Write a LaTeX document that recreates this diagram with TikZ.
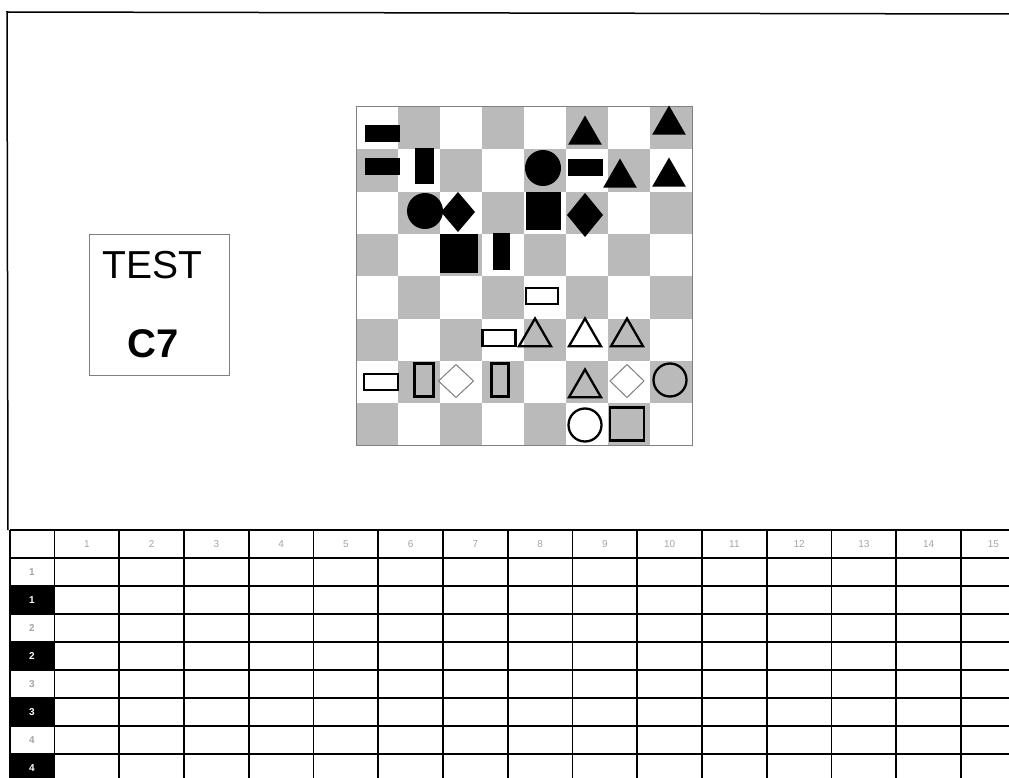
\documentclass[tikz,border=0pt]{standalone}
\usepackage{fontspec}
\setmainfont{Liberation Sans}
\usetikzlibrary{shapes.geometric}
\definecolor{square}{HTML}{BABABA}
\definecolor{rim}{HTML}{808080}
\definecolor{faint}{HTML}{A5A5A5}

\begin{document}
\begin{tikzpicture}[x=1pt,y=-1pt,
  ink/.style={fill=black,draw=none,inner sep=0pt,outer sep=0pt},
  hollow/.style={draw=black,line width=2.3pt,fill=none,inner sep=0pt,outer sep=0pt},
  hairline/.style={draw=rim,line width=1pt,fill=none,inner sep=0pt,outer sep=0pt},
  bar/.style={rectangle,minimum width=35,minimum height=17},
  post/.style={rectangle,minimum width=19,minimum height=36},
  block/.style={rectangle,minimum width=36,minimum height=37},
  dot/.style={circle,minimum size=36},
  gem/.style={diamond,minimum width=34,minimum height=40},
  tri/.style={regular polygon,regular polygon sides=3,minimum size=39},
  grid/.style={line width=1.6pt,draw=black},
  head/.style={font=\fontsize{10}{10}\selectfont,text=faint,inner sep=0pt},
  side/.style={font=\bfseries\fontsize{10}{10}\selectfont,inner sep=0pt}]
  \useasboundingbox (0,0) rectangle (1009,778);
  \clip (0,0) rectangle (1009,778);
  \fill[white] (0,0) rectangle (1009,778);
  \draw[line width=1.5pt] (8,530) -- (7,12) -- (1009,14);

  \node[hairline,minimum width=140,minimum height=141,anchor=north west] (card) at (89,234) {};
  \node[inner sep=0pt,anchor=base west,font=\fontsize{39}{39}\selectfont] (test) at (102,278) {TEST};
  \node[inner sep=0pt,anchor=base,font=\bfseries\fontsize{40}{40}\selectfont] (code) at (153,357) {C7};

  \foreach \r in {0,...,7}
    \foreach \c in {0,...,7}{
      \pgfmathtruncatemacro\odd{mod(\r+\c,2)}
      \ifnum\odd=1 \fill[square] ({356+42*\c},{107+42.3*\r}) rectangle +(42,42.3);\fi
    }
  \node[hairline,minimum width=336,minimum height=338,anchor=north west] (board) at (356,107) {};

  \node[ink,bar] (a1) at (382,134) {};
  \node[ink,tri] (f1) at (585,135) {};
  \node[ink,tri] (h1) at (669,125) {};
  \node[ink,bar] (a2) at (382,167) {};
  \node[ink,post] (b2) at (424,166) {};
  \node[ink,dot] (e2) at (543,168) {};
  \node[ink,bar] (f2) at (585,168) {};
  \node[ink,tri] (g2) at (620,178) {};
  \node[ink,tri] (h2) at (669,177) {};
  \node[ink,dot] (b3) at (425,211) {};
  \node[ink,gem] (c3) at (458,212) {};
  \node[ink,block,minimum width=35,minimum height=38] (e3) at (543,211) {};
  \node[ink,gem,minimum width=36,minimum height=44] (f3) at (585,215) {};
  \node[ink,block,minimum width=38,minimum height=39] (c4) at (459,253) {};
  \node[ink,post,minimum width=17,minimum height=37] (d4) at (501,251) {};

  \node[hollow,bar,minimum width=32,minimum height=16] (e5) at (542,296) {};
  \node[hollow,bar,minimum width=33,minimum height=16] (d6) at (499,338) {};
  \node[hollow,tri,minimum size=37] (e6) at (535,337) {};
  \node[hollow,tri,minimum size=37] (f6) at (585,337) {};
  \node[hollow,tri,minimum size=37] (g6) at (627,337) {};
  \node[hollow,bar,minimum width=34,minimum height=16] (a7) at (381,382) {};
  \node[hollow,post,minimum width=19,minimum height=33] (b7) at (424,380) {};
  \node[hairline,gem,minimum width=35,minimum height=33] (c7) at (456,381) {};
  \node[hollow,post,minimum width=17,minimum height=33] (d7) at (500,380) {};
  \node[hollow,tri,minimum size=37] (f7) at (585,388) {};
  \node[hairline,gem,minimum width=34,minimum height=33] (g7) at (627,381) {};
  \node[hollow,dot,minimum size=33] (h7) at (670,380) {};
  \node[hollow,dot,minimum size=33] (f8) at (585,425) {};
  \node[hollow,block,minimum width=34,minimum height=33] (g8) at (627,424) {};

  \foreach \r in {2,4,6,8}
    \fill (10,{530+28*\r}) rectangle (54.5,{558+28*\r});
  \foreach \r in {0,...,8}
    \draw[grid] (10,{530+28*\r}) -- (1009,{530+28*\r});
  \draw[grid] (10,530) -- (10,778);
  \foreach \k in {0,...,15}
    \draw[grid] ({54.5+64.75*\k},530) -- ({54.5+64.75*\k},778);
  \foreach \k in {1,...,15}
    \node[head] (col\k) at ({54.5+64.75*(\k-0.5)},544) {\k};
  \foreach \r/\t in {1/1,3/2,5/3,7/4}
    \node[side,text=faint] (row\r) at (32,{544+28*\r}) {\t};
  \foreach \r/\t in {2/1,4/2,6/3,8/4}
    \node[side,text=white] (row\r) at (32,{544+28*\r}) {\t};
\end{tikzpicture}
\end{document}
